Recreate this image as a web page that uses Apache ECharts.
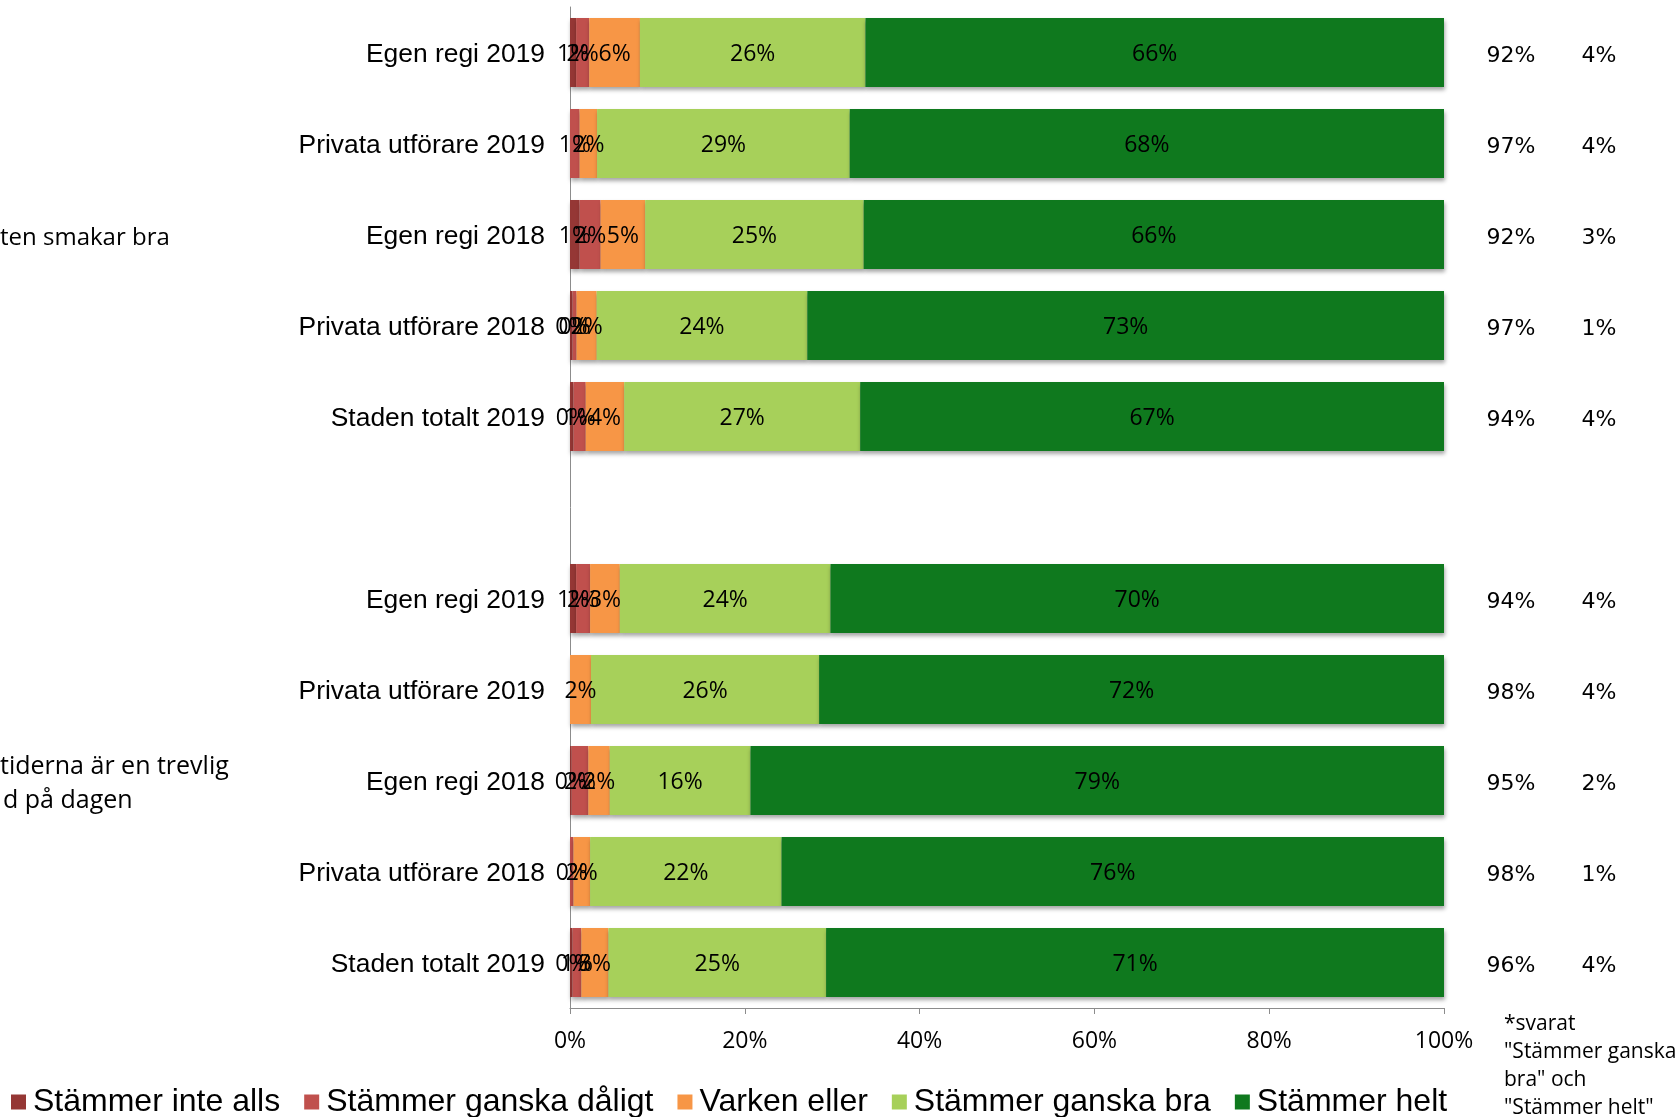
<!DOCTYPE html>
<html>
<head>
<meta charset="utf-8">
<script src="https://cdn.jsdelivr.net/npm/echarts@6/dist/echarts.min.js"></script>
<style>
html,body{margin:0;padding:0;background:#fff;}
#chart{width:1679px;height:1117px;}
</style>
</head>
<body>
<div id="chart"></div>
<script>
const categories = ['Egen regi 2019','Privata utförare 2019','Egen regi 2018','Privata utförare 2018','Staden totalt 2019','',
                    'Egen regi 2019','Privata utförare 2019','Egen regi 2018','Privata utförare 2018','Staden totalt 2019'];
const seriesNames = ['Stämmer inte alls','Stämmer ganska dåligt','Varken eller','Stämmer ganska bra','Stämmer helt'];
const inteAlls     = [0.7, 0,    1.1, 0.3,   0.4, null, 0.7, 0,    0.2,   0,    0.3];
const ganskaDaligt = [1.5, 1.1,  2.4, 0.45,  1.4, null, 1.6, 0,    1.9,   0.4,  1.0];
const varkenEller  = [5.8, 2.0,  5.1, 2.3,   4.4, null, 3.4, 2.4,  2.45,  1.9,  3.1];
const ganskaBra    = [25.8,28.9, 25.0,24.1,  27.0,null, 24.1,26.1, 16.1,  21.9, 24.9];
const helt         = [66.2,68.0, 66.4,72.85, 66.8,null, 70.2,71.5, 79.35, 75.8, 70.7];
const totalBraHelt = ['92%','97%','92%','97%','94%','','94%','98%','95%','98%','96%'];
const secondColumn = ['4%','4%','3%','1%','4%','','4%','4%','2%','1%','4%'];
const xTicks = [0,20,40,60,80,100];
const groupLabel1 = 'ten smakar bra';
const groupLabel2a = 'tiderna är en trevlig';
const groupLabel2b = 'd på dagen';
const footnote = '*svarat\n"Stämmer ganska\nbra" och\n"Stämmer helt"';

const colors = ['#953735','#C0504D','#F79646','#A7D05A','#0F791E'];
const valueSets = [inteAlls, ganskaDaligt, varkenEller, ganskaBra, helt];

const chart = echarts.init(document.getElementById('chart'), null, {renderer:'canvas'});

const series = seriesNames.map((name,i)=>({
  name: name,
  type: 'bar',
  stack: 'total',
  yAxisIndex: 0,
  barWidth: 69,
  data: valueSets[i],
  itemStyle: {
    color: colors[i],
    shadowColor: 'rgba(0,0,0,0.35)',
    shadowBlur: 4,
    shadowOffsetX: 1,
    shadowOffsetY: 3
  },
  label: {
    show: true,
    position: 'inside',
    offset: [0, 2],
    fontFamily: '"Open Sans"',
    fontSize: 23,
    color: '#000',
    formatter: p => (p.value === null || p.value === undefined || p.value === 0 || p.value === '-') ? '' : Math.round(p.value) + '%'
  },
  emphasis: {disabled: true},
  animation: false
}));

const option = {
  backgroundColor: '#fff',
  animation: false,
  grid: {left: 570, right: 235, top: 7, bottom: 109, containLabel: false},
  xAxis: {
    type: 'value',
    min: xTicks[0], max: xTicks[xTicks.length - 1], interval: xTicks[1] - xTicks[0],
    axisLine: {show: true, lineStyle: {color: '#8c8c8c', width: 1}},
    axisTick: {show: true, length: 6, lineStyle: {color: '#8c8c8c'}},
    splitLine: {show: false},
    axisLabel: {
      margin: 22,
      fontFamily: '"Open Sans"',
      fontSize: 23,
      color: '#000',
      formatter: v => v + '%'
    }
  },
  yAxis: [
    {
      type: 'category', data: categories, inverse: true,
      axisLine: {show: true, lineStyle: {color: '#8c8c8c', width: 1}},
      axisTick: {show: false},
      axisLabel: {margin: 25, verticalAlign: 'top', lineHeight: 4, fontFamily: '"Liberation Sans", Arial, sans-serif', fontSize: 26.4, color: '#000'}
    },
    {
      type: 'category', data: categories, inverse: true, position: 'right',
      axisLine: {show: false}, axisTick: {show: false}, splitLine: {show: false},
      axisLabel: {margin: 67, align: 'center', verticalAlign: 'top', lineHeight: 8, fontFamily: '"DejaVu Sans"', fontSize: 22, color: '#000',
                  formatter: (v, i) => totalBraHelt[i]}
    },
    {
      type: 'category', data: categories, inverse: true, position: 'right', offset: 0,
      axisLine: {show: false}, axisTick: {show: false}, splitLine: {show: false},
      axisLabel: {margin: 155, align: 'center', verticalAlign: 'top', lineHeight: 8, fontFamily: '"DejaVu Sans"', fontSize: 22, color: '#000',
                  formatter: (v, i) => secondColumn[i]}
    }
  ],
  legend: {
    data: seriesNames,
    left: 6, top: 1081,
    icon: 'rect',
    itemWidth: 15, itemHeight: 15,
    itemGap: 24,
    textStyle: {fontFamily: '"Liberation Sans", Arial, sans-serif', fontSize: 32, color: '#000', padding: [0,0,0,2]},
    selectedMode: false
  },
  graphic: [
    {type: 'text', left: 0, top: 226, style: {text: groupLabel1, fontFamily: '"Open Sans"', fontSize: 24, fill: '#000'}},
    {type: 'text', left: 0, top: 754, style: {text: groupLabel2a, fontFamily: '"Open Sans"', fontSize: 25, fill: '#000'}},
    {type: 'text', left: 3, top: 788, style: {text: groupLabel2b, fontFamily: '"Open Sans"', fontSize: 25, fill: '#000'}},
    {type: 'text', left: 1504, top: 1010, style: {text: footnote, fontFamily: '"Open Sans"', fontSize: 21, lineHeight: 28, fill: '#000'}}
  ],
  series: series
};
chart.setOption(option);
</script>
</body>
</html>
